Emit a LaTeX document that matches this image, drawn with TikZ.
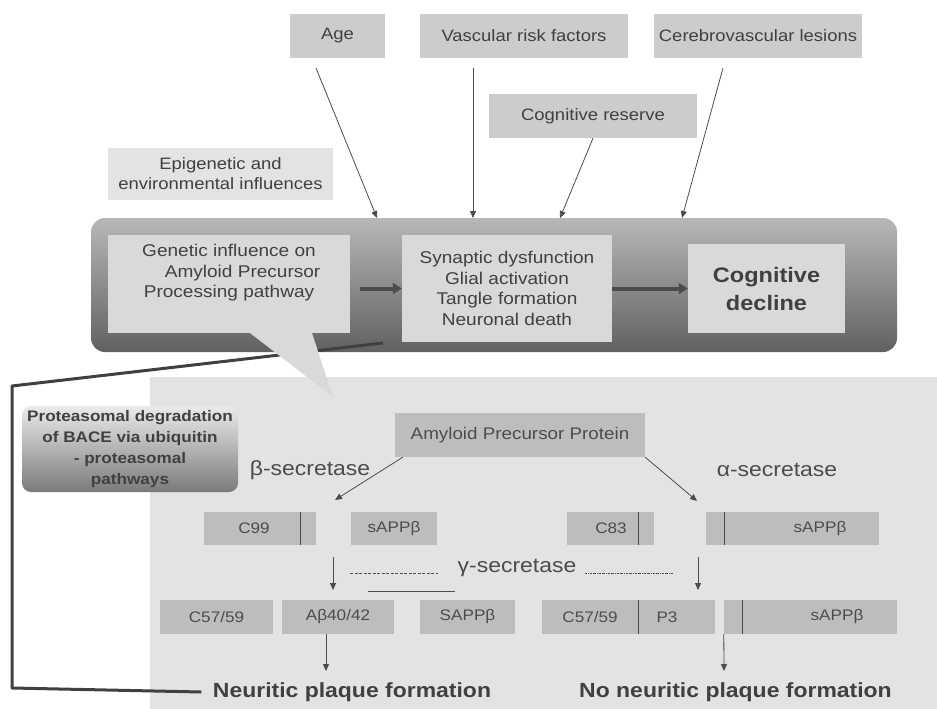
\documentclass[tikz,border=0pt]{standalone}
\usepackage{fontspec}
\setmainfont{Liberation Sans}[FakeStretch=1.12]
\usetikzlibrary{arrows.meta}
\definecolor{txt}{gray}{0.25}
\definecolor{tex}{gray}{0.80}
\definecolor{inner}{gray}{0.85}
\definecolor{field}{gray}{0.89}
\definecolor{chip}{gray}{0.74}
\definecolor{ink}{gray}{0.30}
\tikzset{
  factor/.style={fill=tex, text=txt, inner sep=0pt, font=\fontsize{16.5}{20}\selectfont},
  stage/.style={fill=inner, text=txt, inner sep=0pt, align=center, font=\fontsize{17}{20.7}\selectfont},
  chip/.style={fill=chip, text=ink, inner sep=0pt, font=\fontsize{15.3}{18}\selectfont},
  chiptext/.style={text=ink, font=\fontsize{15.3}{18}\selectfont},
  thin arrow/.style={draw=ink, line width=0.8pt, -{Triangle[length=7pt,width=6pt]}},
  fat arrow/.style={draw=ink, line width=4pt, -{Triangle[length=9pt,width=11pt]}},
  enzyme/.style={text=ink, font=\fontsize{20.5}{24}\selectfont},
  outcome/.style={text=txt, font=\bfseries\fontsize{20.5}{24}\selectfont},
}
\begin{document}
\begin{tikzpicture}[x=1pt,y=-1pt]
\useasboundingbox (0,0) rectangle (937,709);

% lower field for the processing scheme
\fill[field] (150,377) rectangle (937,709);

% modifying factors
\node[factor, minimum width=95pt, minimum height=44pt] (age) at (337.5,36) {Age};
\node[factor, minimum width=208pt, minimum height=44pt] (vasc) at (524,36) {Vascular risk factors};
\node[factor, minimum width=208pt, minimum height=44pt] (cereb) at (758,36) {Cerebrovascular lesions};
\node[factor, minimum width=208pt, minimum height=44pt] (cres) at (593,116) {Cognitive reserve};
\node[fill=field, text=txt, inner sep=0pt, align=center, minimum width=225pt, minimum height=52pt,
      font=\fontsize{16.5}{20}\selectfont] (epi) at (220.5,174) {Epigenetic and\\environmental influences};

% main band
\shade[top color=black!28, bottom color=black!62, rounded corners=14pt]
  (91,218) rectangle (897,352);

\node[stage, minimum width=242pt, minimum height=98pt] (gen) at (229,284) {};
\node[text=txt, align=center, font=\fontsize{17}{20.5}\selectfont] (gentxt) at (229,273)
  {Genetic influence on\\\hspace*{1.6em}Amyloid Precursor\\Processing pathway};
\node[stage, minimum width=210pt, minimum height=107pt] (syn) at (507,288.5)
  {Synaptic dysfunction\\Glial activation\\Tangle formation\\Neuronal death};
\node[stage, minimum width=157pt, minimum height=89pt, font=\bfseries\fontsize{21}{28}\selectfont]
  (cog) at (766.5,288.5) {Cognitive\\decline};

\coordinate (genout) at (360,288.5);
\draw[fat arrow] (genout) -- (syn.west);
\draw[fat arrow] (syn.east) -- (cog.west);

% factor arrows onto the band
\coordinate (agefoot) at (316,68);
\coordinate (vascfoot) at (473,68);
\coordinate (cerebfoot) at (723,68);
\draw[thin arrow] (agefoot) -- (377,218);
\draw[thin arrow] (vascfoot) -- (473,218);
\draw[thin arrow] (cres.south) -- (560,218);
\draw[thin arrow] (cerebfoot) -- (682,218);

% feedback line to plaque formation
\node[outcome] (neur) at (352,692) {Neuritic plaque formation};
\node[outcome] (noneur) at (735.5,692) {No neuritic plaque formation};
\coordinate (fb) at (383,343);
\draw[draw=black!75, line width=3pt, line join=round] (fb) -- (12,386) -- (12,688) -- ([xshift=-8pt]neur.west);

% callout wedge from the genetic box
\fill[inner] (250,333) -- (312,333) -- (333,397) -- cycle;

% proteasomal degradation
\shade[top color=black!8, bottom color=black!52, rounded corners=9pt] (22,406) rectangle (238,492);
\node[text=txt, align=center, font=\bfseries\fontsize{15.3}{21}\selectfont] (prot) at (130,449)
  {Proteasomal degradation\\of BACE via ubiquitin\\- proteasomal\\pathways};

% APP processing
\node[chip, minimum width=250pt, minimum height=44pt, font=\fontsize{16.8}{20}\selectfont]
  (app) at (520,435) {Amyloid Precursor Protein};
\node[enzyme] (bsec) at (310,470) {β-secretase};
\node[enzyme] (asec) at (777,470) {α-secretase};
\coordinate (bcut) at (335,500);
\coordinate (acut) at (697,501);
\draw[thin arrow] ([xshift=8pt]app.south west) -- (bcut);
\draw[thin arrow] (app.south east) -- (acut);

% first cleavage products
\node[chip, minimum width=112pt, minimum height=33pt] (c99) at (260,528.5) {};
\node[chiptext] at (254,528.5) {C99};
\draw[ink, line width=0.8pt] (300,512) -- (300,545);
\node[chip, minimum width=86pt, minimum height=33pt] (sb1) at (394,528.5) {sAPPβ};
\node[chip, minimum width=87pt, minimum height=33pt] (c83) at (610.5,528.5) {};
\node[chiptext] at (611,528.5) {C83};
\draw[ink, line width=0.8pt] (638,512) -- (638,545);
\node[chip, minimum width=173pt, minimum height=33pt] (sa1) at (792.5,528.5) {};
\node[chiptext] at (820,528.5) {sAPPβ};
\draw[ink, line width=0.8pt] (724,512) -- (724,545);

% gamma secretase step
\node[enzyme] (gsec) at (517,568) {γ-secretase};
\draw[ink, line width=0.6pt, dash pattern=on 3pt off 1.5pt] (350,573) -- (438,573);
\draw[ink, line width=0.6pt] (368,591) -- (455,591);
\draw[ink, line width=0.6pt, dash pattern=on 2pt off 1pt on 0.5pt off 1pt] (585,573) -- (673,573);
\coordinate (bdown) at (333,557);
\coordinate (adown) at (698,557);
\draw[thin arrow] (bdown) -- (333,590);
\draw[thin arrow] (adown) -- (698,590);

% second cleavage products
\node[chip, minimum width=113pt, minimum height=34pt] (c57a) at (216.5,617) {C57/59};
\node[chip, minimum width=112pt, minimum height=34pt] (ab) at (338,617) {Aβ40/42};
\node[chip, minimum width=95pt, minimum height=34pt] (sb2) at (467.5,617) {SAPPβ};
\node[chip, minimum width=173pt, minimum height=34pt] (c57b) at (628.5,617) {};
\node[chiptext] at (590,617) {C57/59};
\node[chiptext] at (667,617) {P3};
\draw[ink, line width=0.8pt] (638,600) -- (638,634);
\node[chip, minimum width=173pt, minimum height=34pt] (sa2) at (810.5,617) {};
\node[chiptext] at (837,617) {sAPPβ};
\draw[ink, line width=0.8pt] (742,600) -- (742,634);

\draw[thin arrow] ([xshift=-12pt]ab.south) -- (326,671);
\draw[thin arrow] (sa2.south west) -- (724,671);
\end{tikzpicture}
\end{document}
